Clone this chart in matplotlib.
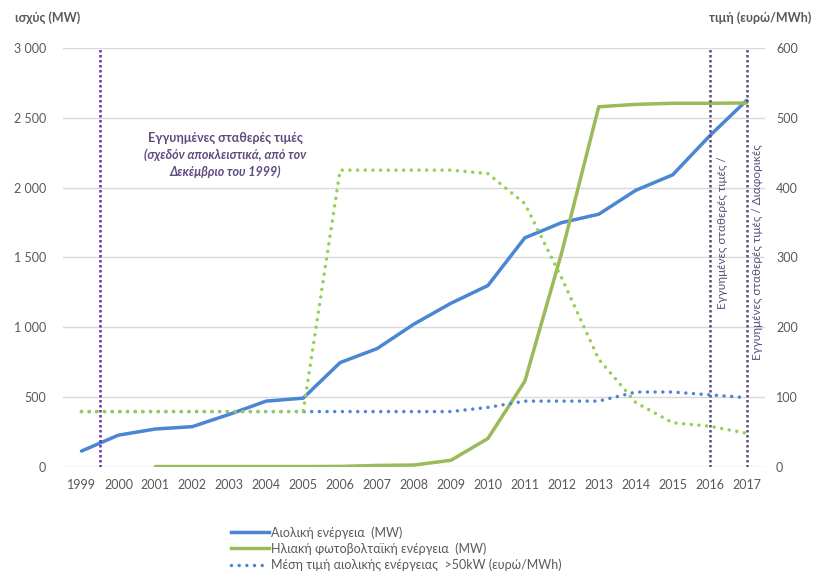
import numpy as np
import matplotlib.pyplot as plt
from matplotlib.lines import Line2D

plt.rcParams['font.family'] = ['Lato', 'Noto Sans', 'DejaVu Sans']

# === Dati ===
anni = [1999, 2000, 2001, 2002, 2003, 2004, 2005, 2006, 2007, 2008,
        2009, 2010, 2011, 2012, 2013, 2014, 2015, 2016, 2017]
eolico_mw = [112, 226, 270, 287, 375, 470, 491, 746, 846, 1022,
             1171, 1298, 1640, 1749, 1809, 1980, 2091, 2370, 2624]
# fotovoltaico parte dal 2001
fv_mw = [np.nan, np.nan, 1, 1, 1, 1, 1, 2, 9, 12,
         46, 202, 612, 1536, 2579, 2596, 2604, 2604, 2606]
prezzo_eolico = [79, 79, 79, 79, 79, 79, 79, 79, 79, 79,
                 79, 85, 94, 94, 94, 107, 107, 103, 99]
prezzo_fv = [79, 79, 79, 79, 79, 79, 79, 425, 425, 425,
             425, 420, 377, 270, 154, 92, 63, 58, 48]

etichette = ['Αιολική ενέργεια  (MW)',
             'Ηλιακή φωτοβολταϊκή ενέργεια  (MW)',
             'Μέση τιμή αιολικής ενέργειας  >50kW (ευρώ/MWh)']

x = np.arange(len(anni))

blu = '#4A86D4'
verde = '#9BBB59'
verde_chiaro = '#92D050'
viola = '#7030A0'
viola_scuro = '#5F4B7F'
grigio = '#595959'
puntini = (0, (0.01, 2.2))

fig = plt.figure(figsize=(8.14, 5.74), dpi=100)
ax1 = fig.add_axes([63/814, 1-466.7/574, (765-63)/814, (466.7-48)/574])
ax2 = ax1.twinx()

ax1.plot(x, eolico_mw, color=blu, lw=2.5, solid_capstyle='round', zorder=3)
ax1.plot(x, fv_mw, color=verde, lw=2.5, solid_capstyle='round', zorder=3)

ax2.plot(x, prezzo_eolico, color=blu, lw=2.5, linestyle=puntini,
         dash_capstyle='round')
ax2.plot(x, prezzo_fv, color=verde_chiaro, lw=2.5, linestyle=puntini,
         dash_capstyle='round')

# linee verticali
ax1.axvline(0.5, color=viola, lw=1.8, linestyle=(0, (1, 1)), zorder=4)
ax1.axvline(17, color=viola_scuro, lw=1.8, linestyle=(0, (1, 1)), zorder=4)
ax1.axvline(18, color=viola_scuro, lw=1.8, linestyle=(0, (1, 1)), zorder=4)

ax1.set_xlim(-0.5, 18.5)
ax1.set_ylim(0, 3000)
ax2.set_ylim(0, 600)
ax1.set_yticks(range(0, 3001, 500))
ax1.set_yticklabels([f'{v:,}'.replace(',', ' ') for v in range(0, 3001, 500)])
ax2.set_yticks(range(0, 601, 100))
ax1.set_xticks(x)
ax1.set_xticklabels([str(a) for a in anni])
ax1.grid(axis='y', color='#D9D9D9', lw=1)
ax1.set_axisbelow(True)

for ax in (ax1, ax2):
    for s in ax.spines.values():
        s.set_visible(False)
    ax.tick_params(length=0, labelsize=9, labelcolor=grigio)
ax1.tick_params(axis='y', pad=12)
ax1.tick_params(axis='x', pad=9)
ax2.tick_params(axis='y', pad=8)

fig.text(15/814, 1-18/574, 'ισχύς (MW)', fontsize=9, color=grigio,
         fontweight='bold', va='center', ha='left')
fig.text(811/814, 1-18/574, 'τιμή (ευρώ/MWh)', fontsize=9, color=grigio,
         fontweight='bold', va='center', ha='right')

# annotazioni
ax1.text(3.9, 2353, 'Εγγυημένες σταθερές τιμές', ha='center', va='center',
         fontsize=9, color=viola_scuro, fontweight='bold')
ax1.text(3.9, 2233, '(σχεδόν αποκλειστικά, από τον', ha='center',
         va='center', fontsize=9, color=viola_scuro, fontweight='bold',
         style='italic')
ax1.text(3.9, 2116, 'Δεκέμβριο του 1999)', ha='center', va='center',
         fontsize=9, color=viola_scuro, fontweight='bold', style='italic')
ax1.text(17.36, 1676, 'Εγγυημένες σταθερές τιμές /', rotation=90,
         ha='center', va='center', fontsize=8.5, color=viola_scuro)
ax1.text(18.31, 1538, 'Εγγυημένες σταθερές τιμές / Διαφορικές', rotation=90,
         ha='center', va='center', fontsize=8.5, color=viola_scuro)

handles = [
    Line2D([], [], color=blu, lw=2.5),
    Line2D([], [], color=verde, lw=2.5),
    Line2D([], [], color=blu, lw=2.5, linestyle=puntini,
           dash_capstyle='round'),
]
fig.legend(handles, etichette, loc='upper left',
           bbox_to_anchor=(226/814, 1-521/574), frameon=False,
           fontsize=9, labelcolor=grigio, handlelength=3.0,
           handletextpad=0.2, labelspacing=0.3, borderaxespad=0)

fig.savefig('out.png', dpi=100)
